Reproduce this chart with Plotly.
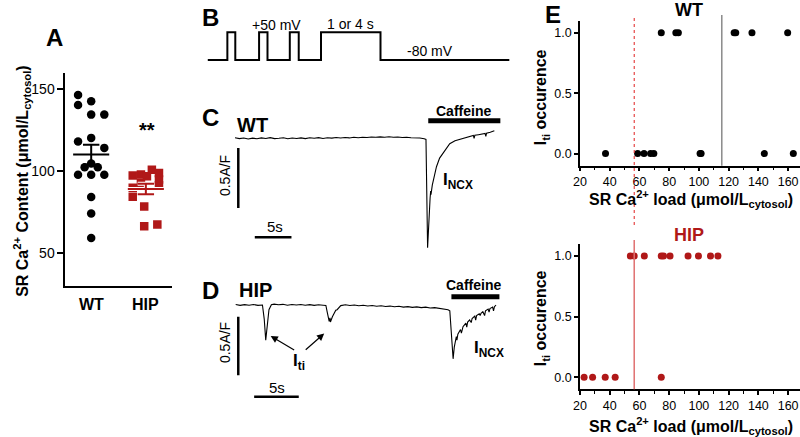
import plotly.graph_objects as go
import numpy as np

W, H = 800, 437
FONT = "Liberation Sans, Arial, sans-serif"
RED = "#b01818"


def px(x):
    return x / W


def py(y):
    return 1 - y / H


# ---- panel A: SR Ca content, one value per cell ----
wt_content = [146.6, 142.7, 140.5, 134.6, 134.6, 120.4, 118.2, 114.3, 104.8,
              102.5, 102.5, 97.9, 97.9, 97.9, 84.3, 74.2, 59.3]
wt_jitter = [-0.24, 0.0, -0.24, 0.0, 0.24, 0.0, -0.24, 0.24, 0.0,
             -0.12, 0.12, -0.24, 0.0, 0.24, 0.0, 0.0, 0.0]
hip_content = [101, 99, 98, 97.5, 97, 95, 93, 91.5, 90, 84.5, 78.5, 67.5, 66.5]
hip_jitter = [0.11, 0.24, -0.09, -0.24, 0.02, 0.24, -0.09, 0.24, -0.24, -0.24, -0.03, 0.21, -0.03]
groups = ["WT", "HIP"]

# ---- panel B: voltage protocol ----
hold_mV = -80
step_mV = 50
pulse_on = [20, 52, 83, 114.5]
pulse_off = [28, 60.5, 92, 174.5]
sweep_end = 304.7

# ---- panel C: WT current trace (s, A/F) ----
wt_time = [0.0, 0.6, 1.2, 1.8, 2.4, 3.0, 3.6, 4.2, 4.8, 5.4, 6.0, 6.6, 7.2, 7.8, 8.4,
           9.0, 9.6, 10.2, 10.8, 11.4, 12.0, 12.6, 13.2, 13.8, 14.4, 15.0, 15.6, 16.2,
           16.8, 17.4, 18.0, 18.6, 19.2, 19.8, 20.4, 21.0, 21.6, 22.2, 22.8, 23.4, 24.0,
           24.6, 25.2, 25.8, 26.04, 26.26, 26.45, 26.6, 26.68, 26.72, 26.9, 27.2, 27.47,
           27.9, 28.38, 28.8, 29.28, 30.0, 30.5, 31.08, 31.6, 32.1, 32.5, 32.6, 32.7,
           33.2, 33.78, 34.1, 34.2, 34.3, 34.8, 35.36]
wt_current = [0.004, -0.003, 0.002, -0.006, 0.001, -0.004, 0.003, -0.002, 0.005, -0.003,
              0.000, 0.004, -0.004, 0.002, -0.002, 0.003, -0.003, 0.004, 0.000, 0.005,
              -0.002, 0.004, 0.001, 0.006, 0.002, 0.006, 0.003, 0.008, 0.004, 0.009,
              0.006, 0.011, 0.008, 0.012, 0.009, 0.013, 0.008, 0.011, 0.006, 0.009,
              0.004, 0.006, 0.002, -0.004, -0.010, -0.912, -0.62, -0.50, -0.44, -0.47,
              -0.39, -0.31, -0.237, -0.165, -0.125, -0.085, -0.045, -0.02, -0.01, 0.0,
              0.012, 0.018, 0.024, 0.0, 0.025, 0.03, 0.036, 0.04, 0.015, 0.042, 0.05, 0.063]

# ---- panel D: HIP current trace (s, A/F) ----
hip_time = [0.0, 0.5, 1.0, 1.5, 2.0, 2.5, 3.0, 3.2, 3.37, 3.53, 3.73, 4.0, 4.3, 4.8, 5.3,
            5.8, 6.3, 6.8, 7.3, 7.8, 8.3, 8.8, 9.3, 9.8, 10.11, 10.26, 10.48, 10.57, 10.62,
            10.84, 11.22, 11.37, 11.78, 12.3, 12.8, 13.3, 13.8, 14.3, 14.8, 15.3, 15.8,
            16.3, 16.8, 17.3, 17.8, 18.3, 18.8, 19.3, 19.8, 20.3, 20.8, 21.3, 21.8, 22.3,
            22.8, 23.3, 23.8, 24.0, 24.2, 24.37, 24.5, 24.73, 24.8, 24.9, 25.2, 25.3,
            25.48, 25.8, 25.9, 26.0, 26.22, 26.4, 26.5, 26.8, 26.9, 27.0, 27.3, 27.4,
            27.5, 27.7, 27.9, 28.0, 28.3, 28.4, 28.5, 28.8, 28.9, 29.0, 29.18]
hip_current = [0.004, -0.003, 0.003, -0.002, 0.004, -0.003, 0.0, -0.12, -0.30, -0.15,
               -0.04, 0.003, 0.008, 0.002, 0.006, -0.002, 0.004, 0.0, 0.005, -0.002,
               0.003, -0.003, 0.002, -0.002, -0.004, -0.06, -0.14, -0.11, -0.145, -0.10,
               -0.045, -0.04, -0.005, 0.002, -0.004, 0.0, -0.006, -0.002, -0.008, -0.004,
               -0.010, -0.006, -0.012, -0.009, -0.015, -0.011, -0.018, -0.014, -0.02,
               -0.016, -0.022, -0.018, -0.025, -0.022, -0.028, -0.03, -0.04, -0.05,
               -0.30, -0.46, -0.36, -0.27, -0.30, -0.25, -0.21, -0.24, -0.185, -0.155,
               -0.19, -0.145, -0.128, -0.15, -0.115, -0.095, -0.13, -0.09, -0.075, -0.09,
               -0.07, -0.057, -0.09, -0.05, -0.035, -0.06, -0.03, -0.018, -0.05, -0.014, 0.0]

# ---- panel E: Iti occurrence vs SR load ----
wt_load = [74.7, 84.5, 86.2, 123.7, 124.8, 135.7, 159.7,
           37.2, 58.8, 63.1, 67.5, 69.7, 100.8, 101.5, 144.0, 163.5]
wt_iti = [1, 1, 1, 1, 1, 1, 1, 0, 0, 0, 0, 0, 0, 0, 0, 0]
hip_load = [53.9, 56.5, 63.3, 74.7, 76.2, 80.6, 92.7, 99.7, 107.8, 112.8,
            22.8, 28.5, 37.0, 43.7, 74.7]
hip_iti = [1, 1, 1, 1, 1, 1, 1, 1, 1, 1, 0, 0, 0, 0, 0]
wt_threshold = 115.4
hip_threshold = 56.5

fig = go.Figure()


def mean_sem(vals, centre, color, under=False):
    m = np.mean(vals)
    s = np.std(vals, ddof=1) / np.sqrt(len(vals))
    xs = [centre - 0.33, centre + 0.33, None, centre, centre, None,
          centre - 0.15, centre + 0.15, None, centre - 0.15, centre + 0.15]
    ys = [m, m, None, m - s, m + s, None, m + s, m + s, None, m - s, m - s]
    if under:
        fig.add_trace(go.Scatter(x=xs, y=ys, mode="lines", line=dict(color="white", width=4),
                                 xaxis="x", yaxis="y", hoverinfo="skip"))
    fig.add_trace(go.Scatter(x=xs, y=ys, mode="lines", line=dict(color=color, width=2),
                             xaxis="x", yaxis="y", hoverinfo="skip"))


# A
fig.add_trace(go.Scatter(x=[1 + j for j in wt_jitter], y=wt_content, mode="markers",
                         marker=dict(color="black", size=8.5), xaxis="x", yaxis="y"))
mean_sem(wt_content, 1, "black")
fig.add_trace(go.Scatter(x=[2 + j for j in hip_jitter], y=hip_content, mode="markers",
                         marker=dict(color=RED, size=8.5, symbol="square"), xaxis="x", yaxis="y"))
mean_sem(hip_content, 2, RED, under=True)

# B protocol as steps
prot_t, prot_v = [0], [hold_mV]
for on, off in zip(pulse_on, pulse_off):
    prot_t += [on, off]
    prot_v += [step_mV, hold_mV]
prot_t.append(sweep_end)
prot_v.append(hold_mV)
fig.add_trace(go.Scatter(x=prot_t, y=prot_v, mode="lines", line=dict(color="black", width=2, shape="hv"),
                         xaxis="x2", yaxis="y2"))

# C and D traces
fig.add_trace(go.Scatter(x=wt_time, y=wt_current, mode="lines", line=dict(color="black", width=1.1),
                         xaxis="x3", yaxis="y3"))
fig.add_trace(go.Scatter(x=hip_time, y=hip_current, mode="lines", line=dict(color="black", width=1.1),
                         xaxis="x4", yaxis="y4"))

# E
fig.add_trace(go.Scatter(x=wt_load, y=wt_iti, mode="markers", marker=dict(color="black", size=7),
                         xaxis="x5", yaxis="y5", cliponaxis=False))
fig.add_trace(go.Scatter(x=hip_load, y=hip_iti, mode="markers", marker=dict(color=RED, size=7),
                         xaxis="x6", yaxis="y6", cliponaxis=False))

hidden = dict(visible=False)
e_x = dict(domain=[px(578), 1.0], range=[20, 168], showline=True, linecolor="black", linewidth=1.5,
           ticks="outside", ticklen=4, tickwidth=1.5, tickcolor="black", tick0=20, dtick=20,
           minor=dict(ticks="outside", ticklen=2.5, tickwidth=1.2, dtick=10, tickcolor="black"),
           showgrid=False, zeroline=False, tickfont=dict(size=12.5, color="black"))
e_y = dict(range=[-0.1, 1.1], showline=True, linecolor="black", linewidth=1.5,
           ticks="outside", ticklen=4, tickwidth=1.5, tickcolor="black",
           tickvals=[0, 0.5, 1], tickformat=".1f", showgrid=False, zeroline=False,
           tickfont=dict(size=12.5, color="black"))

fig.update_layout(
    width=W, height=H, margin=dict(l=0, r=0, t=0, b=0),
    paper_bgcolor="white", plot_bgcolor="white", showlegend=False,
    font=dict(family=FONT, color="black"),
    xaxis=dict(domain=[px(59), px(166)], range=[0.53, 2.47], showline=True, linecolor="black",
               linewidth=2, showticklabels=False, ticks="", showgrid=False, zeroline=False),
    yaxis=dict(domain=[py(286), py(73)], range=[30, 160], showline=True, linecolor="black",
               linewidth=2, ticks="outside", ticklen=6, tickwidth=2, tickcolor="black",
               tickvals=[50, 100, 150], showgrid=False, zeroline=False,
               tickfont=dict(size=14, color="black")),
    xaxis2=dict(domain=[px(202.3), px(507)], range=[0, sweep_end], anchor="y2", **hidden),
    yaxis2=dict(domain=[py(70), py(20)], range=[-127, 108], anchor="x2", **hidden),
    xaxis3=dict(domain=[px(225), px(500)], range=[-0.676, 36.49], anchor="y3", **hidden),
    yaxis3=dict(domain=[py(255), py(100)], range=[-0.9725, 0.319], anchor="x3", **hidden),
    xaxis4=dict(domain=[px(225), px(500)], range=[-0.633, 29.92], anchor="y4", **hidden),
    yaxis4=dict(domain=[py(400), py(280)], range=[-0.812, 0.214], anchor="x4", **hidden),
    xaxis5=dict(anchor="y5", **e_x),
    yaxis5=dict(domain=[py(165.7), py(20.7)], anchor="x5", **e_y),
    xaxis6=dict(anchor="y6", **e_x),
    yaxis6=dict(domain=[py(389.3), py(244)], anchor="x6", **e_y),
)

shapes = [
    # C scale bars and caffeine bar
    dict(type="line", xref="x3", yref="y3", x0=0.45, x1=0.45, y0=-0.08, y1=-0.58, line=dict(width=2.5)),
    dict(type="line", xref="x3", yref="y3", x0=2.7, x1=7.7, y0=-0.825, y1=-0.825, line=dict(width=2.5)),
    dict(type="line", xref="x3", yref="y3", x0=26.35, x1=36.18, y0=0.147, y1=0.147, line=dict(width=5)),
    # D scale bars and caffeine bar
    dict(type="line", xref="x4", yref="y4", x0=0.29, x1=0.29, y0=-0.10, y1=-0.60, line=dict(width=2.5)),
    dict(type="line", xref="x4", yref="y4", x0=2.07, x1=7.07, y0=-0.784, y1=-0.784, line=dict(width=2.5)),
    dict(type="line", xref="x4", yref="y4", x0=24.18, x1=29.56, y0=0.071, y1=0.071, line=dict(width=5)),
    # E threshold lines
    dict(type="line", xref="x5", yref="paper", x0=wt_threshold, x1=wt_threshold, y0=py(165.7), y1=py(15),
         line=dict(color="#8a8a8a", width=1.5)),
    dict(type="line", xref="x5", yref="paper", x0=hip_threshold, x1=hip_threshold, y0=py(225), y1=py(17),
         line=dict(color="#e02020", width=1, dash="dot")),
    dict(type="line", xref="x6", yref="paper", x0=hip_threshold, x1=hip_threshold, y0=py(389.3), y1=py(240),
         line=dict(color="#e07070", width=1.5)),
]
for s in shapes:
    s["line"].setdefault("color", "black")
fig.update_layout(shapes=shapes)


def note(text, x, y, size=14, angle=0, color="black", xanchor="center"):
    return dict(text=text, x=px(x), y=py(y), xref="paper", yref="paper", showarrow=False,
                font=dict(size=size, color=color, family=FONT), textangle=angle,
                xanchor=xanchor, yanchor="middle")


ann = [
    note("<b>A</b>", 48, 38, 24), note("<b>B</b>", 205, 18, 24), note("<b>C</b>", 205, 117, 24),
    note("<b>D</b>", 205, 290, 24), note("<b>E</b>", 551, 14, 24),
    note("<b>SR Ca<sup>2+</sup> Content (μmol/L<sub>cytosol</sub>)</b>", 15, 181, 16, -90),
    note("<b>" + groups[0] + "</b>", 85, 304, 16), note("<b>" + groups[1] + "</b>", 140, 304, 16),
    note("<b>**</b>", 141.7, 130, 20),
    note("+50 mV", 271.7, 25, 14), note("1 or 4 s", 346.7, 24, 14), note("-80 mV", 426.7, 51, 14),
    note("<b>WT</b>", 248, 125, 20), note("<b>Caffeine</b>", 461, 111, 14),
    note("<b>I<sub>NCX</sub></b>", 455, 181, 17), note("0.5A/F", 220, 176, 14, -90), note("5s", 270, 226, 15),
    note("<b>HIP</b>", 251, 290, 20), note("<b>Caffeine</b>", 471, 285, 14),
    note("<b>I<sub>NCX</sub></b>", 486, 349, 17), note("0.5A/F", 220, 343, 14, -90), note("5s", 272, 387, 15),
    note("<b>I<sub>ti</sub></b>", 295, 362, 17),
    note("<b>WT</b>", 688, 10, 18), note("<b>HIP</b>", 688, 235, 18, color=RED),
    note("<b>I<sub>ti</sub> occurence</b>", 539, 97, 16, -90),
    note("<b>I<sub>ti</sub> occurence</b>", 539, 318, 16, -90),
    note("<b>SR Ca<sup>2+</sup> load (μmol/L<sub>cytosol</sub>)</b>", 690, 199, 16),
    note("<b>SR Ca<sup>2+</sup> load (μmol/L<sub>cytosol</sub>)</b>", 690, 426, 16),
]
for tip, tail in [((266, 336), (291, 351)), ((320, 333.5), (300, 351))]:
    ann.append(dict(text="", x=px(tip[0]), y=py(tip[1]), xref="paper", yref="paper", showarrow=True,
                    ax=tail[0] - tip[0], ay=tail[1] - tip[1], arrowhead=2, arrowsize=1.2,
                    arrowwidth=1.2, arrowcolor="black", standoff=0))
fig.update_layout(annotations=ann)

# the page body has a default 8px margin; drop it so the figure sits at the window's corner
fig.write_html("out.html", config={"displayModeBar": False},
               post_script="document.body.style.margin = '0';")
